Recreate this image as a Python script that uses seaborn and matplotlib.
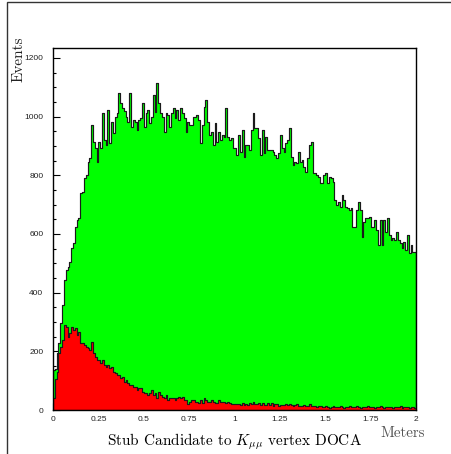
# Stub candidate to K_mumu vertex DOCA: all candidates (green) vs matched stubs (red)
import numpy as np
import pandas as pd
import matplotlib
matplotlib.use("Agg")
import matplotlib.pyplot as plt
from matplotlib.lines import Line2D
from matplotlib.ticker import MultipleLocator, FuncFormatter
import seaborn as sns

sns.set_style("white")
plt.rcParams["mathtext.fontset"] = "cm"
plt.rcParams["font.family"] = ["Liberation Sans", "DejaVu Sans"]

# Parameters
N_BINS = 200          # 1 cm bins
X_MIN, X_MAX = 0.0, 2.0
Y_MAX = 1234

# Bin contents (events per bin)
all_events = [
    136, 140, 194, 230, 297, 358, 443, 477, 488, 505,
    552, 569, 624, 648, 654, 740, 744, 791, 801, 847,
    859, 972, 914, 892, 847, 914, 892, 1012, 920, 903,
    1023, 910, 982, 943, 999, 1012, 1080, 1047, 1029, 1018,
    1000, 982, 1080, 966, 988, 982, 955, 988, 994, 1047,
    966, 1012, 1023, 977, 1000, 1074, 1017, 1114, 1046, 1012,
    1000, 948, 1012, 1006, 966, 1012, 1029, 994, 1023, 988,
    1029, 1012, 994, 948, 982, 971, 971, 1000, 1000, 1006,
    988, 910, 971, 1034, 1057, 982, 937, 948, 903, 977,
    914, 948, 920, 937, 931, 1029, 931, 920, 926, 892,
    893, 869, 938, 881, 955, 864, 903, 903, 886, 955,
    1012, 961, 961, 927, 869, 955, 875, 932, 886, 886,
    886, 881, 869, 858, 875, 938, 893, 881, 909, 921,
    961, 864, 835, 847, 841, 881, 847, 852, 829, 812,
    858, 903, 914, 807, 807, 801, 795, 773, 773, 801,
    807, 773, 795, 790, 778, 716, 699, 710, 693, 733,
    716, 693, 688, 682, 688, 624, 624, 682, 710, 682,
    590, 642, 654, 654, 659, 624, 624, 648, 614, 563,
    648, 563, 648, 608, 654, 597, 580, 586, 580, 608,
    580, 569, 552, 574, 546, 597, 535, 563, 540, 540,
]
stub_events = [
    40, 105, 131, 193, 216, 239, 290, 284, 250, 261,
    284, 273, 278, 256, 267, 227, 227, 222, 216, 210,
    205, 233, 193, 182, 170, 170, 159, 170, 153, 148,
    153, 142, 148, 131, 125, 119, 119, 108, 114, 97,
    102, 91, 85, 85, 80, 80, 68, 74, 74, 63,
    57, 57, 51, 57, 68, 51, 57, 40, 62, 50,
    45, 40, 51, 34, 40, 40, 40, 34, 40, 45,
    40, 45, 34, 34, 20, 28, 34, 34, 28, 28,
    23, 34, 23, 40, 34, 28, 28, 34, 28, 23,
    23, 34, 28, 28, 28, 23, 28, 23, 19, 19,
    19, 19, 19, 17, 23, 17, 19, 17, 23, 19,
    28, 19, 19, 23, 17, 23, 17, 17, 23, 17,
    23, 15, 19, 19, 15, 17, 17, 17, 19, 17,
    20, 17, 14, 17, 19, 14, 12, 14, 17, 14,
    12, 19, 14, 12, 14, 11, 12, 14, 11, 10,
    12, 11, 8, 11, 12, 10, 11, 9, 12, 10,
    8, 11, 9, 12, 10, 11, 9, 12, 10, 8,
    11, 9, 10, 12, 9, 11, 10, 8, 11, 9,
    12, 10, 8, 10, 11, 9, 10, 8, 11, 9,
    10, 12, 8, 10, 9, 11, 8, 10, 9, 8,
]
x_tick_values = [0, 0.25, 0.5, 0.75, 1, 1.25, 1.5, 1.75, 2]
y_tick_values = [0, 200, 400, 600, 800, 1000, 1200]

edges = np.linspace(X_MIN, X_MAX, N_BINS + 1)
centers = 0.5 * (edges[:-1] + edges[1:])
df = pd.DataFrame({"doca": centers, "all": all_events, "stub": stub_events})

fig = plt.figure(figsize=(4.52, 4.54), dpi=100)
ax = fig.add_axes([0.1173, 0.0969, 0.8031, 0.7974])

# Filled step histograms, green first, red on top
sns.histplot(data=df, x="doca", weights="all", bins=N_BINS, binrange=(X_MIN, X_MAX),
             element="step", fill=True, color="#00ff00", alpha=1,
             edgecolor="#1a1a1a", linewidth=0.85, ax=ax)
sns.histplot(data=df, x="doca", weights="stub", bins=N_BINS, binrange=(X_MIN, X_MAX),
             element="step", fill=True, color="#ff0000", alpha=1,
             edgecolor="#1a1a1a", linewidth=0.85, ax=ax)

ax.set_xlim(X_MIN, X_MAX)
ax.set_ylim(0, Y_MAX)
ax.set_xlabel("")
ax.set_ylabel("")

# ROOT-like ticks: inside, left and bottom only
ax.set_xticks(x_tick_values)
ax.set_yticks(y_tick_values)
ax.xaxis.set_major_formatter(FuncFormatter(lambda v, _: f"{v:g}"))
ax.xaxis.set_minor_locator(MultipleLocator(0.05))
ax.yaxis.set_minor_locator(MultipleLocator(50))
ax.tick_params(which="both", direction="in", top=False, right=False,
               left=True, bottom=True, color="black", width=0.8)
ax.tick_params(which="major", length=5, labelsize=6, labelcolor="#222222")
ax.tick_params(which="minor", length=2.5)
ax.tick_params(axis="y", which="major", pad=7)
ax.tick_params(axis="x", which="major", pad=4.3)
for s in ax.spines.values():
    s.set_color("black")
    s.set_linewidth(1.0)

# Axis titles placed like the ROOT canvas
fig.text(18.3 / 452, 1 - 37 / 454, "Events", rotation=90, ha="center", va="top",
         family="cmr10", fontsize=11, color="#222222")
fig.text(234 / 452, 1 - 445 / 454, r"Stub Candidate to $K_{\mu\mu}$ vertex DOCA",
         ha="center", va="baseline", family="cmr10", fontsize=11, color="black")
fig.text(425 / 452, 1 - 437 / 454, "Meters", ha="right", va="baseline",
         family="cmr10", fontsize=10.8, color="#555555")

# Canvas frame (left and top edges only)
fig.add_artist(Line2D([7.3 / 452, 7.3 / 452, 1.0], [0.0, 1 - 2 / 454, 1 - 2 / 454],
                      color="#333333", lw=1, solid_joinstyle="miter"))

fig.savefig("out.png", dpi=100)
